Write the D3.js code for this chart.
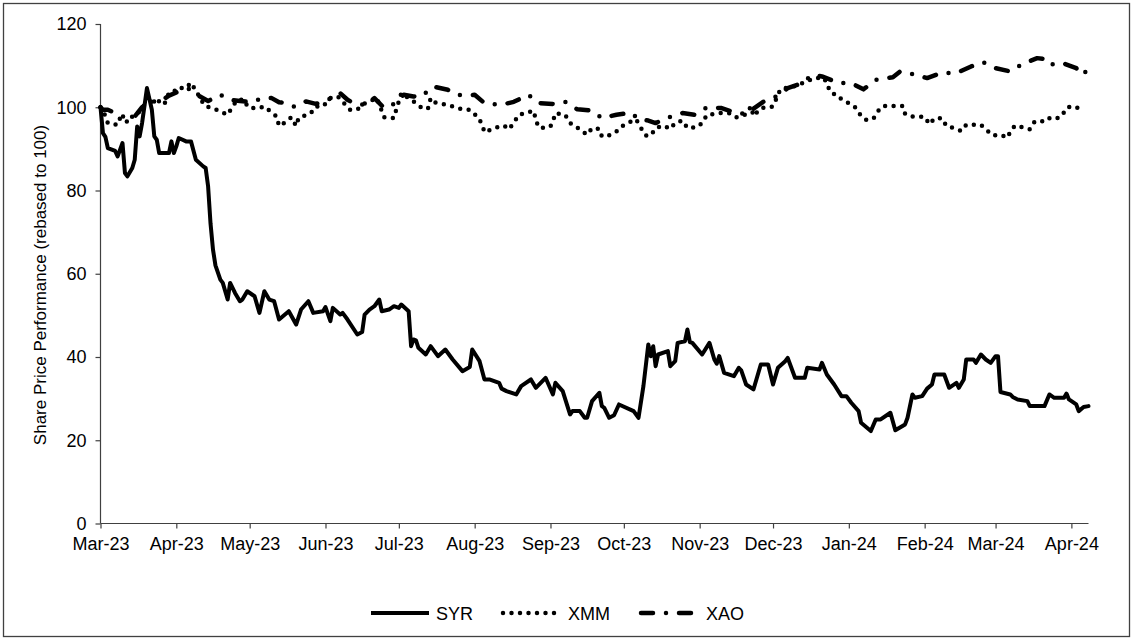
<!DOCTYPE html>
<html>
<head>
<meta charset="utf-8">
<script src="https://cdn.jsdelivr.net/npm/d3@7"></script>
<style>
  body { margin: 0; background: #fff; }
  text { font-family: "Liberation Sans", Arial, sans-serif; fill: #000; }
</style>
</head>
<body>
<div id="chart"></div>
<script>
// days counted from 1 Mar 2023, values rebased to 100
var syrDay = [0,1,2,3,6,7,9,10,11,13,14,15,16,17,19,21,22,23,24,28,29,30,31,32,35,37,39,42,43,44,45,46,47,49,50,52,53,55,57,58,60,63,65,67,69,71,73,77,80,82,85,87,91,92,94,95,98,99,101,105,107,108,110,112,114,115,118,120,122,123,126,127,128,129,130,133,135,138,141,144,148,151,152,155,157,159,163,164,166,170,172,176,178,182,185,186,189,192,193,196,198,199,201,204,205,206,208,210,212,218,220,222,224,225,226,227,228,232,233,235,236,239,240,241,242,246,249,251,252,253,255,259,261,262,264,267,270,273,275,277,280,281,284,288,289,294,295,297,300,303,305,307,310,311,315,317,319,323,325,329,330,332,333,336,338,340,341,345,347,350,351,353,354,357,358,360,362,364,366,367,368,372,373,375,379,380,386,388,390,394,395,396,399,400,402,404];
var syrValues = [100,93.8,92.9,90.2,89.5,88.2,91.4,84.2,83.4,85.4,87.4,95.4,93,96.2,104.6,99.4,93,92.2,89,89,91.8,89,90.6,92.6,91.8,91.8,87.4,85.8,85.4,81,72,65.8,62,58.6,57.8,53.8,57.8,55.4,53.4,53.8,55.8,54.6,50.6,55.8,53.8,53.4,49,51,47.8,51.4,53.4,50.6,51,52,48.6,51.8,50.2,50.6,49,45.4,46,50.2,51.4,52.2,53.8,51,51.4,52.2,51.8,52.6,51,42.6,44.2,44,42.2,40.6,42.6,40.2,41.8,39.4,36.6,37.6,41.8,39,34.6,34.6,33.8,32.4,31.8,31,33,34.6,32.6,35,31,33.8,31.8,26.2,27,27,25.4,25.4,29.4,31.4,28.2,27.8,25.4,26,28.6,27,25.4,33,43,40.2,42.6,37.8,40.6,41.4,37.8,39,43.4,43.8,46.6,43.6,43.4,40.6,43.4,39.4,38.4,40.2,36.2,35.4,37.4,36.8,33.4,32.2,38.2,38.2,33.4,37.4,39,39.8,35,35,37.4,37,38.6,35.8,33.4,30.6,30.6,29,27,24.2,22.2,25,25,26.6,22.4,23.8,25.4,31,30.2,30.6,32.4,33.4,35.8,35.8,32.6,33.8,32.6,34.6,39.4,39.4,38.6,40.6,39.4,38.6,40.2,40.2,31.6,31,30.4,29.8,29.4,28.2,28.2,31,30.2,30.2,31.2,29.8,28.6,27,28,28.2];

var xmmDay = [0,1,3,7,8,10,12,13,15,17,19,23,26,28,30,31,34,35,37,40,41,43,46,52,54,56,59,60,62,65,67,72,73,75,78,80,81,86,88,91,94,97,102,105,107,110,113,116,120,121,122,123,129,132,134,135,137,140,144,148,151,154,156,157,160,163,165,167,169,171,174,177,178,179,182,184,185,186,190,192,194,196,199,201,204,205,209,212,214,217,219,221,223,225,227,230,233,235,238,240,244,246,248,249,253,257,260,264,266,267,270,272,275,278,280,284,292,296,297,299,302,303,306,309,311,313,316,318,320,324,326,328,329,331,334,337,339,341,344,346,349,352,354,357,360,362,365,368,371,372,374,377,380,382,385,387,390,393,395,397,400,402];
var xmmValues = [100,99.4,96.2,95.8,97.4,96.6,96.5,97.8,98.2,100,101,101.8,100.6,103.4,103.6,104.6,104.6,104.6,105.9,103,101.8,100.2,99.8,98.2,100.2,101.8,101.8,100.2,99.8,99.8,100.2,97.8,95.5,96.2,97.6,95.5,97.4,98.6,100.2,100.2,102.2,102.6,99.4,99.4,100.6,101.4,102.2,97.6,97.4,99.6,101.4,103.4,101,99.5,99.8,102.2,101.1,100.8,100.2,99.5,99.4,97.8,96,94,94.7,95.4,95.6,94.7,96.3,98.2,98.6,99.2,97.2,95.2,95,95.4,96.6,98.6,98.2,96.2,95.6,94.6,93.4,95,94.8,93,93.4,94.6,95.8,96.6,97.1,95,93.2,93.2,95,95.6,94.8,96.3,96.8,95,95.2,96.2,98.2,98.2,98.6,98.6,97.6,98.3,100.2,97.9,99.8,99.9,100.2,104.3,104.6,105.1,107,107,105.4,103.4,102.7,101.8,101,99.8,97.9,97,97.2,99.1,100.3,100.3,100.3,100.3,98.4,97.8,97.8,97.7,95.9,97.3,97.4,95.4,95,94.3,95.8,95.8,95.8,94.7,93.2,93.4,92.7,94.2,95.6,95.2,94.7,96.6,96.6,97.5,97.1,97.8,99.8,100.3,99.8,98.6];

var xaoDay = [0,1,3,6,10,14,17,20,24,28,32,36,40,44,49,53,57,62,66,70,73,76,79,82,84,88,92,95,98,101,104,108,112,116,120,124,128,131,136,142,146,150,153,157,160,164,169,175,179,185,190,195,201,205,211,217,220,224,227,232,238,243,248,254,260,264,271,276,281,287,291,295,302,307,312,317,324,327,332,338,344,350,356,361,366,372,377,383,386,388,393,399,401,403];
var xaoValues = [100,99.4,99.4,98.6,97.6,97.8,100,101.5,101.2,102.8,103.8,104.4,102.8,101.5,103,101.8,101.5,101.2,102.2,102.2,101.2,101,100.2,100.6,101.4,100.8,101.5,102.4,103.4,101.8,100.8,100.6,102.2,99.8,100.8,103,102.6,102.5,105,104.2,103,102.8,103,101,100.8,100.6,101.3,103,101,100.8,101.3,99.5,99.2,97.4,98.2,98.7,97.1,96.8,96.2,97.5,98.6,98.2,100,99.8,98.6,98.4,101.3,102.5,104.6,105.8,107.8,107.4,105.8,105.8,104.3,106.6,107.2,108.6,108,107,108.3,108.2,109.8,110.8,109.4,108.6,110.4,111.8,111.6,110.2,110.7,109.4,107.8,108.6];

var seriesNames = ["SYR", "XMM", "XAO"];
var yTicks = [0, 20, 40, 60, 80, 100, 120];
var monthTicks = ["2023-03-01","2023-04-01","2023-05-01","2023-06-01","2023-07-01","2023-08-01","2023-09-01",
  "2023-10-01","2023-11-01","2023-12-01","2024-01-01","2024-02-01","2024-03-01","2024-04-01"];

var svgWidth = 1134;
var svgHeight = 641;
var plot = { left: 100.5, right: 1088.5, top: 24, bottom: 523.5 };

var svg = d3.select("#chart")
  .append("svg")
  .attr("width", svgWidth)
  .attr("height", svgHeight);

svg.append("rect")
  .attr("width", svgWidth)
  .attr("height", svgHeight)
  .attr("fill", "#fff");

// outer chart border
svg.append("rect")
  .attr("x", 3.5)
  .attr("y", 3.5)
  .attr("width", 1126)
  .attr("height", 633)
  .attr("fill", "none")
  .attr("stroke", "#404040")
  .attr("stroke-width", 1.3);

var start = d3.timeParse("%Y-%m-%d")("2023-03-01");
var toDate = d => d3.timeDay.offset(start, d);

var x = d3.scaleTime()
  .domain([start, d3.timeDay.offset(start, 404)])
  .range([plot.left, plot.right]);

var y = d3.scaleLinear()
  .domain([0, 120])
  .range([plot.bottom, plot.top]);

// y axis
var yAxis = svg.append("g")
  .attr("transform", `translate(${plot.left},0)`)
  .call(d3.axisLeft(y).tickValues(yTicks).tickSize(5).tickPadding(9));

// x axis
var xAxis = svg.append("g")
  .attr("transform", `translate(0,${plot.bottom})`)
  .call(d3.axisBottom(x)
    .tickValues(monthTicks.map(d3.timeParse("%Y-%m-%d")))
    .tickFormat(d3.timeFormat("%b-%y"))
    .tickSize(5)
    .tickPadding(9));

svg.selectAll(".domain, .tick line")
  .attr("stroke", "#404040")
  .attr("stroke-width", 1.2);
svg.selectAll(".domain").each(function() {
  // drop the outer ticks d3 adds to the domain path
  var s = d3.select(this);
  if (this.parentNode === yAxis.node()) s.attr("d", `M0,${plot.top}V${plot.bottom}`);
  else s.attr("d", `M${plot.left},0H${plot.right}`);
});
svg.selectAll(".tick text")
  .style("font-size", "18px")
  .attr("fill", "#000");

// axis title
svg.append("text")
  .attr("transform", `translate(46,285)rotate(-90)`)
  .attr("text-anchor", "middle")
  .style("font-size", "17px")
  .text("Share Price Performance (rebased to 100)");

var styles = {
  SYR: { width: 4, dash: null, cap: "round" },
  XMM: { width: 4.5, dash: "0,8.5", cap: "round" },
  XAO: { width: 4.5, dash: "12,13,0,13", cap: "round" }
};

var seriesData = {
  SYR: syrDay.map((d, i) => ({ date: toDate(d), value: syrValues[i] })),
  XMM: xmmDay.map((d, i) => ({ date: toDate(d), value: xmmValues[i] })),
  XAO: xaoDay.map((d, i) => ({ date: toDate(d), value: xaoValues[i] }))
};

var line = d3.line()
  .x(d => x(d.date))
  .y(d => y(d.value));

["XAO", "XMM", "SYR"].forEach(function(name) {
  svg.append("path")
    .datum(seriesData[name])
    .attr("d", line)
    .attr("fill", "none")
    .attr("stroke", "#000")
    .attr("stroke-width", styles[name].width)
    .attr("stroke-linecap", styles[name].cap)
    .attr("stroke-linejoin", "round")
    .attr("stroke-dasharray", styles[name].dash);
});

// legend
var legendX = [371, 503, 641];
var legend = svg.append("g")
  .attr("transform", "translate(0,613)");

seriesNames.forEach(function(name, i) {
  legend.append("line")
    .attr("x1", legendX[i])
    .attr("x2", legendX[i] + 58)
    .attr("stroke", "#000")
    .attr("stroke-width", styles[name].width)
    .attr("stroke-linecap", name === "SYR" ? "butt" : "round")
    .attr("stroke-dasharray", styles[name].dash);
  legend.append("text")
    .attr("x", legendX[i] + 65)
    .attr("y", 6.5)
    .style("font-size", "18px")
    .text(name);
});
</script>
</body>
</html>
